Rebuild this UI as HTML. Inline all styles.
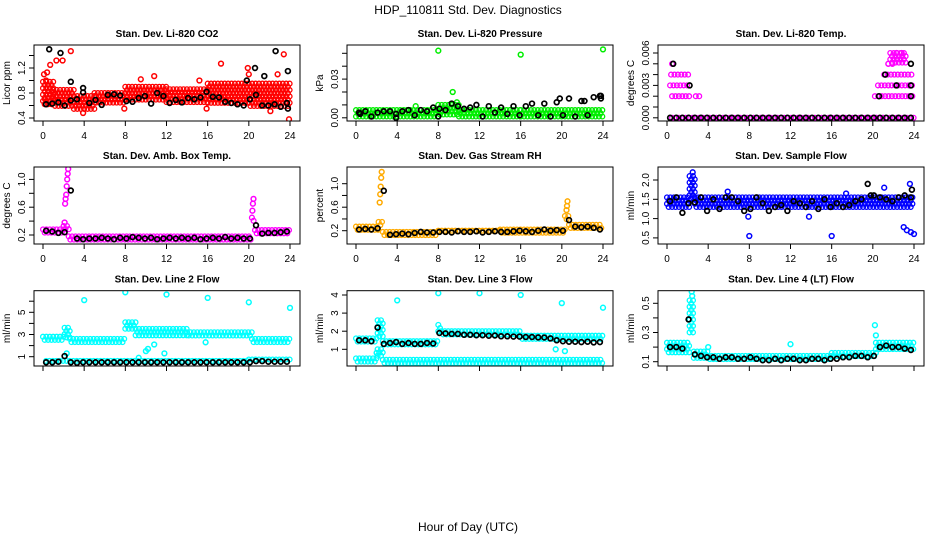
<!DOCTYPE html>
<html><head><meta charset="utf-8"><style>
body{margin:0;background:#fff;}
svg{display:block;font-family:"Liberation Sans",sans-serif;}
</style></head><body>
<svg id="c" width="936" height="540" viewBox="0 0 936 540">
<text x="468" y="14" text-anchor="middle" font-size="12">HDP_110811  Std. Dev. Diagnostics</text>
<text x="468" y="531" text-anchor="middle" font-size="12">Hour of Day (UTC)</text>
</svg>
<script>
// ---- Panel 1 CO2
const p1SegStart=[0,1,3,5,8,12,16,20];
const p1SegEnd=[1,3,5,8,12,16,20,24];
const p1SegLo=[0.6,0.55,0.52,0.6,0.65,0.62,0.6,0.56];
const p1SegHi=[0.98,0.85,0.75,0.8,0.9,0.86,0.95,0.95];
const p1OutH=[0.1,0.3,0.4,0.7,1.3,1.9,2.7,10.8,15.2,17.3,19.9,20,22.8,23.4,23.9,3.9,7.9,15.9,22.1,9.5,0.2];
const p1OutV=[1.1,1.0,1.13,1.25,1.32,1.32,1.47,1.07,1.0,1.27,1.2,1.1,1.1,1.42,0.38,0.48,0.55,0.55,0.51,1.02,0.7];
const p1BlkV=[0.62,0.63,0.65,0.6,0.68,0.7,0.81,0.64,0.69,0.61,0.77,0.78,0.76,0.67,0.66,0.72,0.75,0.63,0.8,0.75,0.64,0.69,0.65,0.72,0.7,0.73,0.82,0.74,0.73,0.66,0.64,0.62,0.6,0.7,0.77,0.6,0.6,0.62,0.58,0.64];
const p1XH=[0.6,1.7,2.7,3.9,20.6,22.6,23.8,23.8,21.5,19.8];
const p1XV=[1.5,1.44,0.98,0.88,1.2,1.47,1.15,0.55,1.07,1.0];
// ---- Panel 2 Pressure
const p2SegStart=[0,8,10,16];
const p2SegEnd=[8,10,16,24];
const p2SegLo=[0,0.001,0,0];
const p2SegHi=[0.006,0.01,0.006,0.006];
const p2OutH=[8,16,24,9.4,5.8,9.8];
const p2OutV=[0.052,0.049,0.053,0.02,0.009,0.012];
const p2BlkV=[0.004,0.005,0.001,0.004,0.005,0.005,0.003,0.005,0.006,0.002,0.006,0.005,0.008,0.007,0.006,0.011,0.009,0.007,0.008,0.01,0.001,0.009,0.004,0.008,0.003,0.009,0.002,0.009,0.011,0.002,0.011,0.001,0.012,0.002,0.015,0.001,0.013,0.002,0.016,0.017];
const p2XH=[23.8,23.8,19.8,22.2,0.4,3.9,8];
const p2XV=[0.017,0.015,0.015,0.013,0.003,0,0.001];
// ---- Panel 3 Temp
const p3SegStart=[0.5,0.3,0.4,0.5,2.8,20,20.2,20.5,21.1,21.7,0.5];
const p3SegEnd=[2.3,2.2,2.2,0.8,3.2,24,24,24,23.9,23.3,21];
const p3SegLo=[0.002,0.003,0.004,0.005,0.002,0,0.002,0.003,0.004,0.005,0];
const p3SegHi=[0.002,0.003,0.004,0.005,0.002,0,0.002,0.003,0.004,0.006,0];
const p3OutH=[22.3,22.8,21.5,21.9];
const p3OutV=[0.006,0.006,0.005,0.005];
const p3BlkV=[0,0,0,0,0,0,0,0,0,0,0,0,0,0,0,0,0,0,0,0,0,0,0,0,0,0,0,0,0,0,0,0,0,0,0,0,0,0,0,0];
const p3XH=[0.6,2.2,21.2,20.6,22.3,23.7,23.7,23.7];
const p3XV=[0.005,0.003,0.004,0.002,0.003,0.005,0.003,0.002];
// ---- Panel 4 Amb Box Temp
const p4SegStart=[0,2,2.5,20.3,20.6];
const p4SegEnd=[2,2.5,20.3,20.6,24];
const p4SegLo=[0.21,0.25,0.12,0.38,0.2];
const p4SegHi=[0.28,0.33,0.18,0.45,0.27];
const p4OutH=[2.15,2.2,2.25,2.3,2.35,2.4,2.45,2.1,20.35,20.4,20.45];
const p4OutV=[0.65,0.72,0.78,0.9,1.0,1.08,1.15,0.38,0.55,0.65,0.72];
const p4BlkV=[0.26,0.25,0.23,0.24,0.84,0.15,0.14,0.15,0.15,0.16,0.15,0.14,0.16,0.15,0.17,0.16,0.15,0.16,0.14,0.15,0.16,0.15,0.16,0.15,0.16,0.14,0.15,0.16,0.15,0.17,0.15,0.16,0.15,0.15,0.34,0.22,0.23,0.23,0.24,0.25];
const p4XH=[];
const p4XV=[];
// ---- Panel 5 Gas Stream RH
const p5SegStart=[0,2.2,2.6,8,14,20.3,20.7];
const p5SegEnd=[2.2,2.6,8,14,20.3,20.7,24];
const p5SegLo=[0.19,0.25,0.12,0.15,0.16,0.35,0.22];
const p5SegHi=[0.27,0.35,0.18,0.2,0.22,0.45,0.3];
const p5OutH=[2.3,2.35,2.4,2.45,2.5,20.45,20.5,20.55];
const p5OutV=[0.68,0.82,0.95,1.1,1.2,0.55,0.62,0.7];
const p5BlkV=[0.22,0.23,0.22,0.24,0.88,0.13,0.14,0.15,0.14,0.16,0.18,0.17,0.17,0.18,0.18,0.17,0.19,0.18,0.18,0.19,0.17,0.18,0.19,0.18,0.18,0.19,0.2,0.19,0.18,0.2,0.22,0.2,0.21,0.2,0.38,0.27,0.26,0.27,0.25,0.22];
const p5XH=[];
const p5XV=[];
// ---- Panel 6 Sample Flow
const p6SegStart=[0,2.2,2.7];
const p6SegEnd=[2.2,2.7,24];
const p6SegLo=[1.3,1.45,1.3];
const p6SegHi=[1.55,2.1,1.55];
const p6OutH=[8,16,23,23.3,23.7,24,23.6,7.9,13.8,2.5,5.9,17.4,21.1];
const p6OutV=[0.55,0.55,0.78,0.7,0.65,0.6,1.9,1.05,1.05,2.2,1.7,1.65,1.8];
const p6BlkV=[1.45,1.55,1.15,1.4,1.42,1.55,1.2,1.5,1.25,1.55,1.55,1.45,1.2,1.25,1.55,1.4,1.2,1.3,1.35,1.2,1.45,1.4,1.3,1.45,1.25,1.5,1.3,1.4,1.3,1.35,1.45,1.5,1.9,1.6,1.55,1.5,1.45,1.55,1.6,1.55];
const p6XH=[23.8,19.8];
const p6XV=[1.75,1.6];
// ---- Panel 7 Line 2 Flow
const p7SegStart=[0,2.1,2.6,8,9,14,20.3,0.3,20];
const p7SegEnd=[2.1,2.6,8,9,14,20.3,24,20,24];
const p7SegLo=[2.4,2.6,2.3,3.3,2.9,2.8,2.3,0.38,0.5];
const p7SegHi=[2.8,3.6,2.6,4.1,3.5,3.2,2.6,0.62,0.75];
const p7OutH=[4,8,12,16,20,24,2.3,9.3,10,11.8,15.8,10.8,10.2];
const p7OutV=[6.1,6.8,6.6,6.3,5.9,5.4,1.3,0.9,1.5,1.3,2.3,2.1,1.7];
const p7BlkV=[0.5,0.5,0.55,1.05,0.5,0.45,0.5,0.5,0.5,0.5,0.5,0.5,0.5,0.5,0.5,0.5,0.5,0.5,0.5,0.5,0.5,0.5,0.5,0.5,0.5,0.5,0.5,0.5,0.5,0.5,0.5,0.5,0.5,0.5,0.6,0.6,0.55,0.55,0.55,0.55];
const p7XH=[];
const p7XV=[];
// ---- Panel 8 Line 3 Flow
const p8SegStart=[0,2.1,2.6,8,8.3,16,0,2.1,2.6];
const p8SegEnd=[2.1,2.6,8,8.3,16,24,2.1,2.6,24];
const p8SegLo=[1.35,1.6,1.25,1.9,1.65,1.4,0.3,0.6,0.2];
const p8SegHi=[1.6,2.6,1.45,2.35,2.0,1.75,0.5,1.0,0.42];
const p8OutH=[4,8,12,16,20,24,19.4,20.3,2.0];
const p8OutV=[3.7,4.1,4.1,4.0,3.55,3.3,1.0,0.9,0.8];
const p8BlkV=[1.5,1.5,1.45,2.2,1.3,1.35,1.4,1.3,1.35,1.3,1.3,1.35,1.32,1.9,1.88,1.85,1.85,1.8,1.8,1.78,1.78,1.75,1.76,1.72,1.72,1.7,1.7,1.68,1.68,1.66,1.65,1.6,1.5,1.45,1.42,1.42,1.4,1.42,1.38,1.4];
const p8XH=[];
const p8XV=[];
// ---- Panel 9 Line 4 Flow
const p9SegStart=[0,2.2,2.6,4,16,20.3];
const p9SegEnd=[2.2,2.6,4,16,20.3,24];
const p9SegLo=[0.16,0.3,0.12,0.1,0.12,0.17];
const p9SegHi=[0.23,0.52,0.17,0.14,0.16,0.23];
const p9OutH=[4,12,20.2,20.3,2.4,2.45];
const p9OutV=[0.2,0.22,0.35,0.28,0.58,0.55];
const p9BlkV=[0.2,0.2,0.19,0.39,0.15,0.14,0.13,0.13,0.12,0.13,0.13,0.12,0.12,0.13,0.12,0.11,0.11,0.12,0.11,0.12,0.12,0.11,0.11,0.12,0.12,0.11,0.12,0.12,0.13,0.13,0.14,0.14,0.13,0.14,0.2,0.21,0.2,0.2,0.19,0.18];
const p9XH=[];
const p9XV=[];

const tickHours=[0,4,8,12,16,20,24];
const panels=[
 {t:"Stan. Dev. Li-820 CO2",yl:"Licor ppm",c:"#ff0000",yRef:0.4,py:118,ppu:62.5,ticks:[0.4,0.6,0.8,1.0,1.2,1.4],labs:["0.4","","0.8","","1.2",""],S:[p1SegStart,p1SegEnd,p1SegLo,p1SegHi],O:[p1OutH,p1OutV],B:p1BlkV,X:[p1XH,p1XV]},
 {t:"Stan. Dev. Li-820 Pressure",yl:"kPa",c:"#00ee00",yRef:0,py:117.8,ppu:1290,ticks:[0,0.01,0.02,0.03,0.04,0.05],labs:["0.00","","","0.03","",""],S:[p2SegStart,p2SegEnd,p2SegLo,p2SegHi],O:[p2OutH,p2OutV],B:p2BlkV,X:[p2XH,p2XV]},
 {t:"Stan. Dev. Li-820 Temp.",yl:"degrees C",c:"#ff00ff",yRef:0,py:117.8,ppu:10800,ticks:[0,0.001,0.002,0.003,0.004,0.005,0.006],labs:["0.000","","","0.003","","","0.006"],S:[p3SegStart,p3SegEnd,p3SegLo,p3SegHi],O:[p3OutH,p3OutV],B:p3BlkV,X:[p3XH,p3XV]},
 {t:"Stan. Dev. Amb. Box Temp.",yl:"degrees C",c:"#ff00ff",yRef:0.2,py:235,ppu:69.5,ticks:[0.2,0.4,0.6,0.8,1.0],labs:["0.2","","0.6","","1.0"],S:[p4SegStart,p4SegEnd,p4SegLo,p4SegHi],O:[p4OutH,p4OutV],B:p4BlkV,X:[p4XH,p4XV]},
 {t:"Stan. Dev. Gas Stream RH",yl:"percent",c:"#ffaa00",yRef:0.2,py:230.7,ppu:58.75,ticks:[0.2,0.4,0.6,0.8,1.0],labs:["0.2","","0.6","","1.0"],S:[p5SegStart,p5SegEnd,p5SegLo,p5SegHi],O:[p5OutH,p5OutV],B:p5BlkV,X:[p5XH,p5XV]},
 {t:"Stan. Dev. Sample Flow",yl:"ml/min",c:"#0000ff",yRef:0.5,py:237.9,ppu:38.6,ticks:[0.5,1.0,1.5,2.0],labs:["0.5","1.0","1.5","2.0"],S:[p6SegStart,p6SegEnd,p6SegLo,p6SegHi],O:[p6OutH,p6OutV],B:p6BlkV,X:[p6XH,p6XV]},
 {t:"Stan. Dev. Line 2 Flow",yl:"ml/min",c:"#00ffff",yRef:1,py:356.7,ppu:11.1,ticks:[1,2,3,4,5,6],labs:["1","","3","","5",""],S:[p7SegStart,p7SegEnd,p7SegLo,p7SegHi],O:[p7OutH,p7OutV],B:p7BlkV,X:[p7XH,p7XV]},
 {t:"Stan. Dev. Line 3 Flow",yl:"ml/min",c:"#00ffff",yRef:1,py:349.3,ppu:18.1,ticks:[1,2,3,4],labs:["1","2","3","4"],S:[p8SegStart,p8SegEnd,p8SegLo,p8SegHi],O:[p8OutH,p8OutV],B:p8BlkV,X:[p8XH,p8XV]},
 {t:"Stan. Dev. Line 4 (LT) Flow",yl:"ml/min",c:"#00ffff",yRef:0.1,py:361.7,ppu:146,ticks:[0.1,0.2,0.3,0.4,0.5],labs:["0.1","","0.3","","0.5"],S:[p9SegStart,p9SegEnd,p9SegLo,p9SegHi],O:[p9OutH,p9OutV],B:p9BlkV,X:[p9XH,p9XV]}
];
const NS="http://www.w3.org/2000/svg";
const svg=document.getElementById('c');
const col0=[43,356,667], rowTop=[45,167,290.7], rowBot=[121,244,366];
const pxh=247/24;
function mk(tag,at,parent){const e=document.createElementNS(NS,tag);for(const k in at)e.setAttribute(k,at[k]);(parent||svg).appendChild(e);return e;}
panels.forEach((p,i)=>{
 const c=i%3,r=Math.floor(i/3);
 const x0=col0[c],L=x0-9,R=x0+257,T=rowTop[r],Bt=rowBot[r];
 const X=h=>x0+h*pxh, Y=v=>p.py-(v-p.yRef)*p.ppu;
 const g=mk('g',{});
 
 
 const cid='clip'+i;
 const cp=mk('clipPath',{id:cid},g);mk('rect',{x:L,y:T,width:R-L,height:Bt-T},cp);
 const pts=mk('g',{'clip-path':'url(#'+cid+')',fill:'none'},g);
 
 
 const dot=(h,v,col,sw)=>{const e=mk('circle',{cx:X(h).toFixed(1),cy:Y(v).toFixed(1),r:2.4,stroke:col,'stroke-width':sw||1.3},pts);
  
  };
 const [ss,se,lo,hi]=p.S;
 for(let k=0;k<ss.length;k++){
  const y1=Y(hi[k]),y2=Y(lo[k]);
  let row=0;
  for(let yy=y1;yy<=y2+0.01;yy+=3.2,row++){
   for(let xx=X(ss[k])+(row%2)*1.7;xx<=X(se[k]);xx+=3.4){dot((xx-x0)/pxh,p.yRef-(yy-p.py)/p.ppu,p.c);}
  }
 }
 p.O[0].forEach((h,k)=>dot(h,p.O[1][k],p.c,1.5));
 p.B.forEach((v,k)=>dot(0.3+k*0.6,v,'#000',1.7));
 p.X[0].forEach((h,k)=>dot(h,p.X[1][k],'#000',1.7));
 const box=mk('rect',{x:L,y:T,width:R-L,height:Bt-T,fill:'none',stroke:'#000','stroke-width':1},g);
 
 
 const tt=mk('text',{x:(L+R)/2,y:T-8,'text-anchor':'middle','font-size':10,'font-weight':'bold'},g);tt.textContent=p.t;
 
 
 tickHours.forEach(h=>{mk('line',{x1:X(h),x2:X(h),y1:Bt,y2:Bt+5,stroke:'#000'},g);
  if(r<2){const t=mk('text',{x:X(h),y:Bt+18,'text-anchor':'middle','font-size':10},g);t.textContent=h;
   
   }});
 p.ticks.forEach((v,k)=>{const y=Y(v);mk('line',{x1:L-5,x2:L,y1:y,y2:y,stroke:'#000'},g);
  if(p.labs[k]){const t=mk('text',{x:L-9,y:y,'text-anchor':'middle','font-size':10,transform:`rotate(-90 ${L-9} ${y})`},g);t.textContent=p.labs[k];
   
   }});
 const yc=(T+Bt)/2;
 const yl=mk('text',{x:L-24,y:yc,'text-anchor':'middle','font-size':10,transform:`rotate(-90 ${L-24} ${yc})`},g);yl.textContent=p.yl;
 
 
});
</script>
</body></html>
